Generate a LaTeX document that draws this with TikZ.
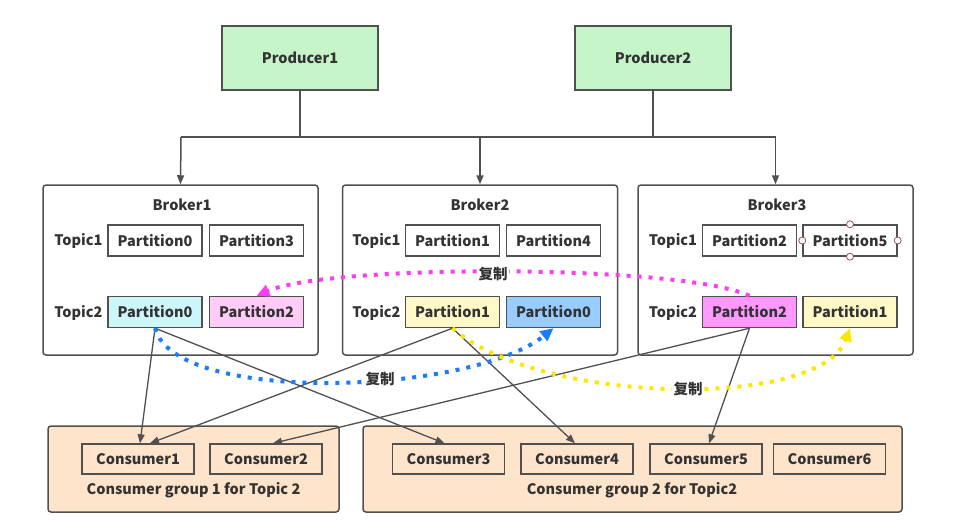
\documentclass[tikz,border=0pt]{standalone}
\usepackage{fontspec}
\setmainfont{Noto Sans CJK SC}
\usetikzlibrary{arrows.meta}
\definecolor{txt}{HTML}{333333}
\definecolor{edge}{HTML}{505050}
\definecolor{prodfill}{HTML}{C6F5C9}
\definecolor{cyanfill}{HTML}{CCF6FA}
\definecolor{pinkfill}{HTML}{FFCCF8}
\definecolor{yelfill}{HTML}{FFF9C8}
\definecolor{bluefill}{HTML}{99CCFF}
\definecolor{magfill}{HTML}{FF99FF}
\definecolor{peach}{HTML}{FFE4CC}
\definecolor{dotmag}{HTML}{FF3CF5}
\definecolor{dotblue}{HTML}{1A7CFF}
\definecolor{dotyel}{HTML}{FFE600}
\definecolor{handle}{HTML}{A05050}
\tikzset{
  every node/.style={font=\fontsize{14.5}{16}\selectfont\bfseries, text=txt},
  prodbox/.style={draw=edge, line width=1.5pt, fill=prodfill, minimum width=156, minimum height=64},
  brokerbox/.style={draw=edge, line width=1.5pt, fill=white, rounded corners=3pt, minimum width=275, minimum height=170},
  partbox/.style={draw=edge, line width=1.4pt, fill=white, minimum width=94, minimum height=31, inner sep=0pt},
  groupbox/.style={draw=edge, line width=1.5pt, fill=peach, rounded corners=3pt, minimum height=86},
  consbox/.style={draw=edge, line width=1.4pt, fill=peach, minimum width=112, minimum height=30, inner sep=0pt},
  plain/.style={inner sep=0pt},
  conn/.style={draw=edge, line width=1.3pt, -{Triangle[length=9pt,width=7pt]}},
  dotline/.style={line width=4pt, dash pattern=on 4pt off 7pt, -{Triangle[length=13pt,width=12pt]}},
  cplabel/.style={fill=white, inner sep=1.5pt},
  handlemark/.style={circle, draw=handle, fill=white, line width=0.8pt, minimum size=7pt, inner sep=0pt}
}
\begin{document}
\begin{tikzpicture}[x=1pt, y=-1pt]
\useasboundingbox (0,0) rectangle (954,528);
% producers
\node[prodbox] (p1) at (300,58) {Producer1};
\node[prodbox] (p2) at (653,58) {Producer2};
% brokers
\node[brokerbox] (b1) at (180.5,270) {};
\node[brokerbox] (b2) at (480,270) {};
\node[brokerbox] (b3) at (775.5,270) {};
\node[plain] (b1l) at (182,205) {Broker1};
\node[plain] (b2l) at (480,205) {Broker2};
\node[plain] (b3l) at (777,205) {Broker3};
% bus
\coordinate (bus1) at (181,137);
\coordinate (bus2) at (480,137);
\coordinate (bus3) at (775.5,137);
\coordinate (pj1) at (300,137);
\coordinate (pj2) at (653,137);
\draw[edge, line width=1.5pt] (p1.south) -- (pj1);
\draw[edge, line width=1.5pt] (p2.south) -- (pj2);
\draw[edge, line width=1.5pt] (bus1) -- (bus3);
\draw[conn, line width=1.5pt] (bus1) -- (b1.north);
\draw[conn, line width=1.5pt] (bus2) -- (b2.north);
\draw[conn, line width=1.5pt] (bus3) -- (b3.north);
% topic labels
\node[plain] (b1t1) at (78.5,241) {Topic1};
\node[plain] (b1t2) at (78.5,313) {Topic2};
\node[plain] (b2t1) at (376.5,241) {Topic1};
\node[plain] (b2t2) at (376.5,313) {Topic2};
\node[plain] (b3t1) at (673,241) {Topic1};
\node[plain] (b3t2) at (673,313) {Topic2};
% partitions
\node[partbox] (b1t1p0) at (155,240.5) {Partition0};
\node[partbox] (b1t1p3) at (256.5,240.5) {Partition3};
\node[partbox, fill=cyanfill] (b1t2p0) at (155,312) {Partition0};
\node[partbox, fill=pinkfill] (b1t2p2) at (256.5,312) {Partition2};
\node[partbox] (b2t1p1) at (452.5,240.5) {Partition1};
\node[partbox] (b2t1p4) at (553.5,240.5) {Partition4};
\node[partbox, fill=yelfill] (b2t2p1) at (452.5,312) {Partition1};
\node[partbox, fill=bluefill] (b2t2p0) at (553.5,312) {Partition0};
\node[partbox] (b3t1p2) at (749.5,240.5) {Partition2};
\node[partbox] (b3t1p5) at (850,240.5) {Partition5};
\node[partbox, fill=magfill] (b3t2p2) at (749.5,312) {Partition2};
\node[partbox, fill=yelfill] (b3t2p1) at (850,312) {Partition1};
% selection handles on Partition5
\node[handlemark] (h1) at (b3t1p5.west) {};
\node[handlemark] (h2) at (b3t1p5.east) {};
\node[handlemark] (h3) at (b3t1p5.north) {};
\node[handlemark] (h4) at (b3t1p5.south) {};
% consumer groups
\node[groupbox, minimum width=291] (g1) at (193.5,469) {};
\node[groupbox, minimum width=539] (g2) at (632.5,469) {};
\node[plain] (g1l) at (193.5,490) {Consumer group 1 for Topic 2};
\node[plain] (g2l) at (632,490) {Consumer group 2 for Topic2};
\node[consbox] (c1) at (138,459) {Consumer1};
\node[consbox] (c2) at (266,459) {Consumer2};
\node[consbox] (c3) at (448.5,459) {Consumer3};
\node[consbox] (c4) at (577,459) {Consumer4};
\node[consbox] (c5) at (706,459) {Consumer5};
\node[consbox] (c6) at (829.5,459) {Consumer6};
% connectors partitions -> consumers
\draw[conn] (b1t2p0.south) -- ([xshift=2pt]c1.north);
\draw[conn] (b1t2p0.south) -- ([xshift=-4pt]c3.north);
\draw[conn] (b2t2p1.south) -- ([xshift=12pt]c1.north);
\draw[conn] (b2t2p1.south) -- ([xshift=-2pt]c4.north);
\draw[conn] (b3t2p2.south) -- ([xshift=7pt]c2.north);
\draw[conn] (b3t2p2.south) -- ([xshift=3pt]c5.north);
% replication curves
\draw[dotline, draw=dotmag] (b3t2p2.north) .. controls (680,264) and (330,264) .. (b1t2p2.north);
\draw[dotline, draw=dotblue] (b1t2p0.south) .. controls (175,405) and (470,395) .. (b2t2p0.south);
\draw[dotline, draw=dotyel] (b2t2p1.south) .. controls (540,405) and (820,410) .. (b3t2p1.south);
\node[cplabel] (r1) at (493,274) {复制};
\node[cplabel] (r2) at (380,379) {复制};
\node[cplabel] (r3) at (688,389) {复制};
\end{tikzpicture}
\end{document}
